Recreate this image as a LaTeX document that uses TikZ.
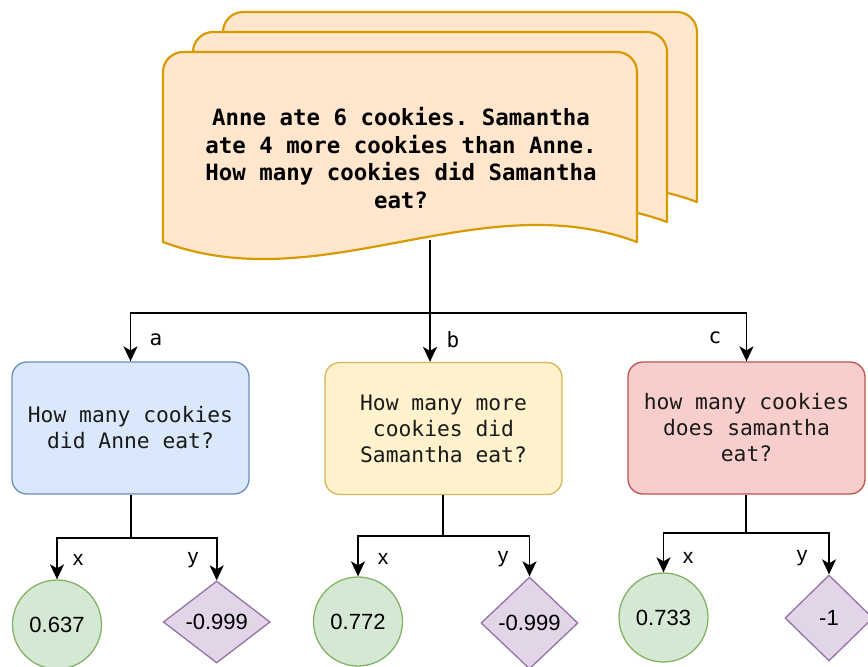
\documentclass[tikz,border=0pt]{standalone}
\usepackage{fontspec}
\setmonofont{DejaVu Sans Mono}
\setsansfont{Liberation Sans}
\usetikzlibrary{shapes.geometric,arrows.meta}

\definecolor{docfill}{HTML}{FFE6CC}
\definecolor{docline}{HTML}{D79B00}
\definecolor{bluefill}{HTML}{DAE8FC}
\definecolor{blueline}{HTML}{6C8EBF}
\definecolor{yellowfill}{HTML}{FFF2CC}
\definecolor{yellowline}{HTML}{D6B656}
\definecolor{redfill}{HTML}{F8CECC}
\definecolor{redline}{HTML}{B85450}
\definecolor{greenfill}{HTML}{D5E8D4}
\definecolor{greenline}{HTML}{82B366}
\definecolor{purplefill}{HTML}{E1D5E7}
\definecolor{purpleline}{HTML}{9673A6}
\definecolor{textgray}{HTML}{1A1A1A}

% one sheet of the stacked document, shifted by (#1,#2)
\newcommand\docsheet[2]{%
  \path[draw=docline, fill=docfill, line width=2.2pt, line join=round, shift={(#1,#2)}]
    (163,242) -- (163,72) .. controls (163,61) and (172,52) .. (183,52)
    -- (617,52) .. controls (628,52) and (637,61) .. (637,72)
    -- (637,242) .. controls (479,183) and (321,301) .. (163,242) -- cycle;}

\tikzset{
  qbox/.style={draw, rounded corners=15pt, minimum width=237pt, minimum height=132pt,
    line width=1.3pt, align=center, inner sep=0pt, text=textgray,
    font=\ttfamily\fontsize{21.3}{26}\selectfont},
  score/.style={circle, draw=greenline, fill=greenfill, line width=1.3pt,
    minimum size=89pt, inner sep=0pt, font=\sffamily\fontsize{22}{26}\selectfont},
  gapval/.style={diamond, draw=purpleline, fill=purplefill, line width=1.3pt,
    inner sep=0pt, font=\sffamily\fontsize{22}{26}\selectfont},
  link/.style={line width=1.7pt, -{Stealth[length=15pt,width=14pt,inset=4pt]}},
  plain/.style={line width=1.7pt},
  edgelbl/.style={inner sep=0pt, font=\ttfamily\fontsize{21}{26}\selectfont},
  axislbl/.style={inner sep=0pt, font=\sffamily\fontsize{21}{26}\selectfont},
}

\begin{document}
\begin{tikzpicture}[x=1pt,y=-1pt]
\useasboundingbox (0,0) rectangle (868,667);

% question boxes
\node[qbox, draw=blueline, fill=bluefill] (qa) at (130.5,428) {How many cookies\\did Anne eat?};
\node[qbox, draw=yellowline, fill=yellowfill] (qb) at (443.5,428.5) {How many more\\cookies did\\Samantha eat?};
\node[qbox, draw=redline, fill=redfill] (qc) at (746.5,428) {how many cookies\\does samantha\\eat?};

% scores
\node[score] (xa) at (57,624.5) {0.637};
\node[gapval, minimum width=107pt, minimum height=82pt] (ya) at (216.7,622) {-0.999};
\node[score] (xb) at (358,621.5) {0.772};
\node[gapval, minimum width=97pt, minimum height=92pt] (yb) at (529.5,623) {-0.999};
\node[score] (xc) at (663.5,617.5) {0.733};
\node[gapval, minimum width=88pt, minimum height=86pt] (yc) at (829,618) {-1};

% branching from the source text
\coordinate (docout) at (430,240);
\coordinate (split) at (430,313);
\draw[plain] (docout) -- (split);
\draw[link] (split) -| (qa.north);
\draw[link] (split) -- (split |- qb.north);
\draw[link] (split) -| (qc.north);
\node[edgelbl] (la) at (156,340) {a};
\node[edgelbl] (lb) at (453,339.5) {b};
\node[edgelbl] (lc) at (715,338) {c};

% branching below each question
\coordinate (ja) at (131,538);
\draw[plain] (qa.south -| ja) -- (ja);
\draw[link] (ja) -| (xa.north);
\draw[link] (ja) -| (ya.north);
\node[axislbl] (lxa) at (78,560) {x};
\node[axislbl] (lya) at (193,560) {y};

\coordinate (jb) at (443,536);
\draw[plain] (qb.south -| jb) -- (jb);
\draw[link] (jb) -| (xb.north);
\draw[link] (jb) -| (yb.north);
\node[axislbl] (lxb) at (383,559) {x};
\node[axislbl] (lyb) at (503,559) {y};

\coordinate (jc) at (746,533);
\draw[plain] (qc.south -| jc) -- (jc);
\draw[link] (jc) -| (xc.north);
\draw[link] (jc) -| (yc.north);
\node[axislbl] (lxc) at (688,558) {x};
\node[axislbl] (lyc) at (802,558) {y};

% stacked source document
\docsheet{60}{-40}
\docsheet{30}{-20}
\docsheet{0}{0}
\node[align=center, inner sep=0pt, font=\ttfamily\bfseries\fontsize{22.4}{27.4}\selectfont] (doc) at (401,158)
  {Anne ate 6 cookies. Samantha\\ate 4 more cookies than Anne.\\How many cookies did Samantha\\eat?};
\end{tikzpicture}
\end{document}
